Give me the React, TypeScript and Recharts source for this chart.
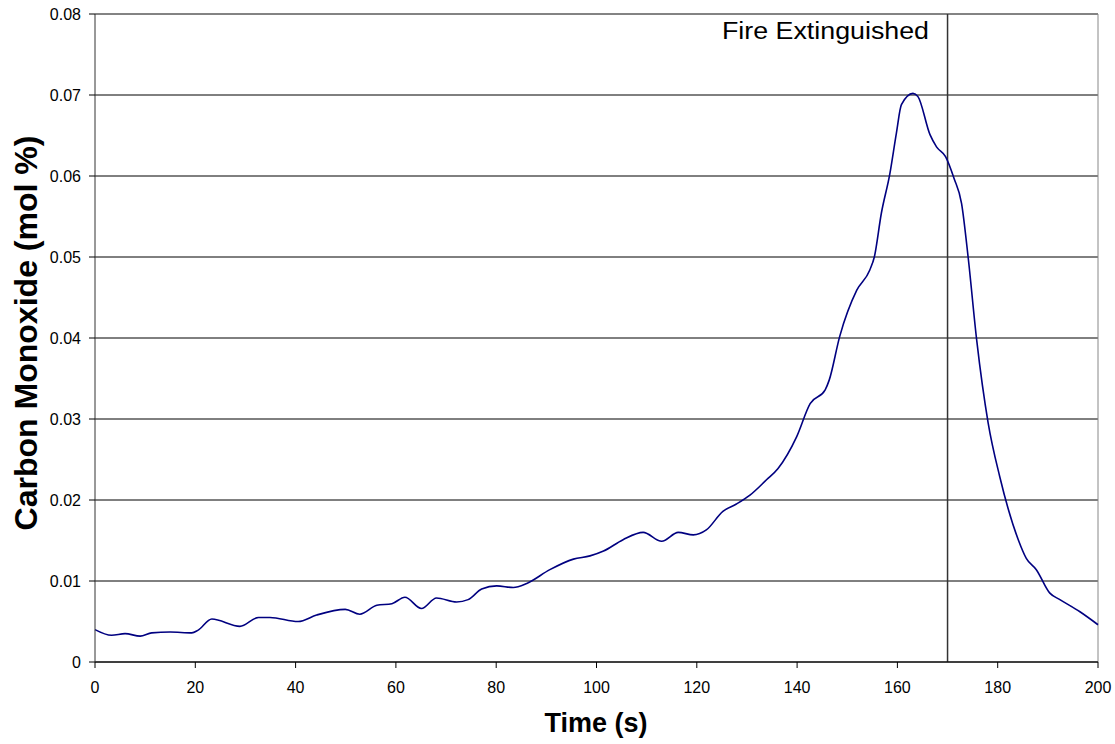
import React from "react";
import { LineChart, Line, XAxis, YAxis, CartesianGrid, ReferenceLine } from "recharts";

const times = [0, 3.3, 6, 9, 11.3, 15, 19.3, 20.5, 23.3, 28.9, 32.6, 34.9, 40.5, 44.2, 49.9, 52.8, 56.2, 59.2, 61.8, 65.1, 68.1, 72.1, 74.4, 77.1, 80.1, 83.4, 86.1, 90.7, 95.4, 98.7, 101.4, 105.3, 109.3, 113, 116.3, 119.3, 121.9, 125.2, 127.9, 130.6, 133.9, 136.2, 139.9, 142.6, 145.6, 146.4, 148.5, 151.9, 154.5, 155.4, 156.8, 158.5, 159.8, 160.8, 163.1, 164.1, 166.5, 167.8, 169.6, 171.3, 172.8, 174.1, 175.8, 178.1, 180.4, 184.1, 185.7, 187.7, 190.4, 192.4, 196.4, 200];
const coValues = [0.0040, 0.0033, 0.0035, 0.0032, 0.0036, 0.0037, 0.0036, 0.0039, 0.0053, 0.0044, 0.0055, 0.0055, 0.0050, 0.0058, 0.0065, 0.0059, 0.0070, 0.0072, 0.0080, 0.0066, 0.0079, 0.0074, 0.0077, 0.0090, 0.0094, 0.0092, 0.0097, 0.0114, 0.0127, 0.0131, 0.0137, 0.0151, 0.0160, 0.0149, 0.0160, 0.0157, 0.0163, 0.0186, 0.0195, 0.0206, 0.0225, 0.0239, 0.0278, 0.0319, 0.0336, 0.0348, 0.0402, 0.0459, 0.0484, 0.0500, 0.0554, 0.0603, 0.0653, 0.0688, 0.0702, 0.0698, 0.0651, 0.0636, 0.0624, 0.0597, 0.0566, 0.0500, 0.0398, 0.0295, 0.0229, 0.0151, 0.0128, 0.0114, 0.0085, 0.0077, 0.0062, 0.0046];

const xTicks = [0, 20, 40, 60, 80, 100, 120, 140, 160, 180, 200];
const yTicks = [0, 0.01, 0.02, 0.03, 0.04, 0.05, 0.06, 0.07, 0.08];
const extinguishedTime = 170;
const extinguishedLabel = "Fire Extinguished";
const xTitle = "Time (s)";
const yTitle = "Carbon Monoxide (mol %)";

const data = times.map((t, i) => ({ t, co: coValues[i] }));
const FONT = "'Liberation Sans', Arial, sans-serif";

const XTick = (props: any) => (
  <text x={props.x} y={693} textAnchor="middle" fontSize={16} fontFamily={FONT} fill="#000">
    {props.payload.value}
  </text>
);

const YTick = (props: any) => {
  const v = props.payload.value as number;
  return (
    <text x={81} y={props.y} dy={5.8} textAnchor="end" fontSize={16} fontFamily={FONT} fill="#000">
      {v === 0 ? "0" : v.toFixed(2)}
    </text>
  );
};

export default function App() {
  return (
    <div style={{ position: "absolute", left: 0, top: 0 }}>
      <LineChart width={1115} height={744} data={data} margin={{ top: 14, right: 17, bottom: 0, left: 0 }}>
        <CartesianGrid vertical={false} stroke="#000" strokeOpacity={1} />
        <XAxis
          dataKey="t"
          type="number"
          domain={[0, 200]}
          ticks={xTicks}
          height={82}
          interval={0}
          stroke="#000"
          tickLine={{ stroke: "#000" }}
          tickSize={6}
          tick={XTick}
          label={(props: any) => (
            <text x={596} y={732} textAnchor="middle" fontSize={27} fontWeight="bold" fontFamily={FONT} fill="#000" textLength={103} lengthAdjust="spacingAndGlyphs">
              {xTitle}
            </text>
          )}
        />
        <YAxis
          type="number"
          domain={[0, 0.08]}
          ticks={yTicks}
          width={95}
          interval={0}
          stroke="#333"
          tickLine={{ stroke: "#000" }}
          tickSize={6}
          tick={YTick}
          label={(props: any) => (
            <text x={37} y={333} transform="rotate(-90, 37, 333)" textAnchor="middle" fontSize={32} fontWeight="bold" fontFamily={FONT} fill="#000" textLength={395} lengthAdjust="spacingAndGlyphs">
              {yTitle}
            </text>
          )}
        />
        <ReferenceLine y={0.08} stroke="#888" strokeWidth={1} />
        <ReferenceLine x={200} stroke="#888" strokeWidth={1} />
        <ReferenceLine
          x={extinguishedTime}
          stroke="#333"
          strokeWidth={1.5}
          label={(props: any) => (
            <text x={929} y={39} textAnchor="end" fontSize={23} fontFamily={FONT} fill="#000" textLength={207} lengthAdjust="spacingAndGlyphs">
              {extinguishedLabel}
            </text>
          )}
        />
        <Line
          type="monotone"
          dataKey="co"
          stroke="#000080"
          strokeWidth={1.6}
          dot={false}
          isAnimationActive={false}
        />
      </LineChart>
    </div>
  );
}
